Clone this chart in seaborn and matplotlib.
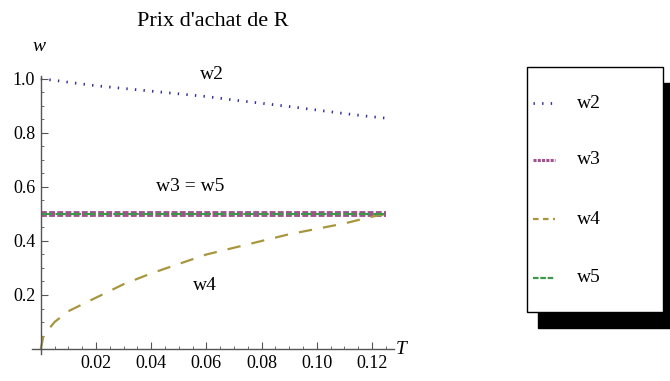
import numpy as np
import pandas as pd
import matplotlib
matplotlib.use("Agg")
import matplotlib.pyplot as plt
import seaborn as sns
from matplotlib.patches import Rectangle
from matplotlib.lines import Line2D
from matplotlib.ticker import MultipleLocator

# data
T = [0.0, 0.001, 0.005, 0.01, 0.02, 0.03, 0.04, 0.05, 0.06, 0.07, 0.08, 0.09, 0.10, 0.11, 0.12, 0.125]
w2 = [1.0, 0.999, 0.995, 0.988, 0.975, 0.965, 0.955, 0.945, 0.935, 0.922, 0.91, 0.898, 0.885, 0.872, 0.86, 0.855]
w3 = [0.5] * len(T)
w4 = [0.0, 0.05, 0.10, 0.14, 0.19, 0.24, 0.28, 0.315, 0.35, 0.375, 0.40, 0.425, 0.445, 0.465, 0.49, 0.50]
w5 = [0.5] * len(T)

series_names = ["w2", "w3", "w4", "w5"]
colors = {"w2": "#30309a", "w3": "#a2508e", "w4": "#a8963f", "w5": "#3a9a4a"}

sns.set_style("white")
plt.rcParams["font.family"] = ["Liberation Serif", "DejaVu Serif"]
plt.rcParams["text.color"] = "black"
plt.rcParams["xtick.labelcolor"] = "black"
plt.rcParams["ytick.labelcolor"] = "black"

df = pd.DataFrame({"T": T, "w2": w2, "w3": w3, "w4": w4, "w5": w5})

fig = plt.figure(figsize=(6.7, 3.81), dpi=100)
ax = fig.add_axes([0.0485, 0.0698, 0.5396, 0.730])

# -------------------------------
# CURVES
# -------------------------------
sns.lineplot(data=df, x="T", y="w2", ax=ax, color=colors["w2"], lw=2.0,
             linestyle=(0, (0.5, 2.6)), dash_capstyle="butt")
sns.lineplot(data=df, x="T", y="w3", ax=ax, color=colors["w3"], lw=4.2,
             linestyle=(0, (1.0, 0.4)), dash_capstyle="butt")
sns.lineplot(data=df, x="T", y="w4", ax=ax, color=colors["w4"], lw=1.6,
             linestyle=(0, (6, 5)), dash_capstyle="butt")
sns.lineplot(data=df, x="T", y="w5", ax=ax, color=colors["w5"], lw=1.6,
             linestyle=(0, (5, 1.5)), dash_capstyle="butt")

# -------------------------------
# AXES (Mathematica-like, through origin)
# -------------------------------
ax.set_xlim(-0.003, 0.128)
ax.set_ylim(-0.02, 1.01)
for s in ["top", "right"]:
    ax.spines[s].set_visible(False)
ax.spines["left"].set_position(("data", 0))
ax.spines["bottom"].set_position(("data", 0))
for s in ["left", "bottom"]:
    ax.spines[s].set_color("#555555")
    ax.spines[s].set_linewidth(1.0)

ax.xaxis.set_major_locator(MultipleLocator(0.02))
ax.xaxis.set_minor_locator(MultipleLocator(0.005))
ax.yaxis.set_major_locator(MultipleLocator(0.2))
ax.yaxis.set_minor_locator(MultipleLocator(0.05))
ax.set_xticks([0.02, 0.04, 0.06, 0.08, 0.10, 0.12])
ax.set_xticklabels(["0.02", "0.04", "0.06", "0.08", "0.10", "0.12"])
ax.set_yticks([0.2, 0.4, 0.6, 0.8, 1.0])
ax.set_yticklabels(["0.2", "0.4", "0.6", "0.8", "1.0"])
ax.tick_params(which="major", direction="in", length=5, width=0.8, color="#555555",
               labelsize=13, pad=4, labelcolor="black")
ax.tick_params(which="minor", direction="in", length=2.5, width=0.6, color="#555555")
ax.tick_params(axis="x", which="both", bottom=True)
ax.tick_params(axis="y", which="both", left=True)
ax.set_xlabel("")
ax.set_ylabel("")

ax.text(0.1305, 0.0, "T", style="italic", fontsize=14, ha="center", va="center",
        clip_on=False)
ax.text(-0.0005, 1.12, "w", style="italic", fontsize=14, ha="center", va="center",
        clip_on=False)

# curve labels
ax.text(0.062, 1.015, "w2", fontsize=14, ha="center", va="center")
ax.text(0.054, 0.60, "w3 = w5", fontsize=14, ha="center", va="center")
ax.text(0.0595, 0.237, "w4", fontsize=14, ha="center", va="center")

fig.text(213 / 670, 1 - 22 / 381, "Prix d'achat de R", fontsize=16,
         ha="center", va="center")

# -------------------------------
# LEGEND BOX WITH SHADOW
# -------------------------------
W, H = 670.0, 381.0
bx0, by0, bx1, by1 = 527, 67, 663, 312
fig.patches.append(Rectangle(((bx0 + 11) / W, 1 - (by1 + 16) / H), (bx1 - bx0) / W,
                             (by1 - by0) / H, transform=fig.transFigure,
                             facecolor="black", edgecolor="black", zorder=1))
fig.patches.append(Rectangle((bx0 / W, 1 - by1 / H), (bx1 - bx0) / W, (by1 - by0) / H,
                             transform=fig.transFigure, facecolor="white",
                             edgecolor="black", lw=1.0, zorder=2))
styles = {"w2": dict(lw=2.0, ls=(0, (0.5, 2.6))),
          "w3": dict(lw=2.2, ls=(0, (1.0, 0.4))),
          "w4": dict(lw=1.6, ls=(0, (2.5, 2))),
          "w5": dict(lw=1.6, ls=(0, (2.5, 0.8)))}
ys = [103, 160, 219, 278]
for name, yp in zip(series_names, ys):
    fig.lines.append(Line2D([533 / W, 555 / W], [1 - yp / H, 1 - yp / H],
                            transform=fig.transFigure, color=colors[name],
                            dash_capstyle="butt", zorder=3, **styles[name]))
    fig.text(577 / W, 1 - yp / H, name, fontsize=14, ha="left", va="center", zorder=3)

fig.savefig("out.png", dpi=100)
